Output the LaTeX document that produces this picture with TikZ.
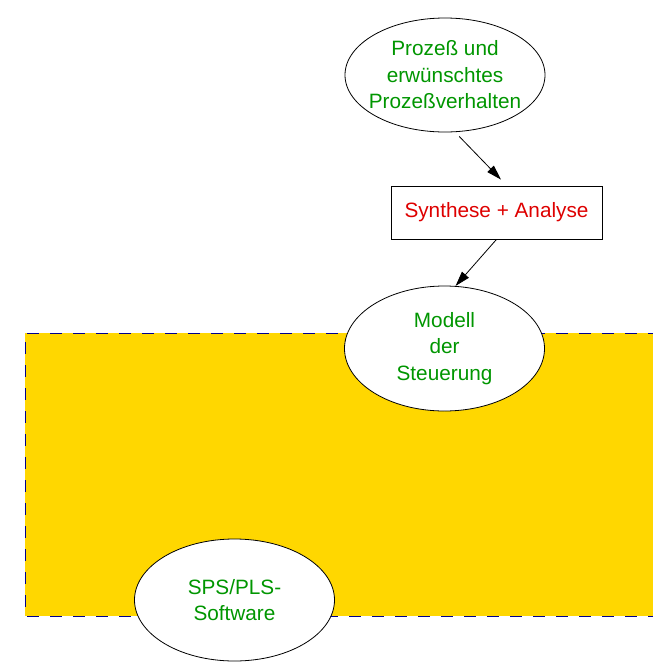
\documentclass[tikz,border=0pt]{standalone}
\usepackage{fontspec}
\setmainfont{Liberation Sans}
\usetikzlibrary{shapes.geometric,arrows.meta}
\definecolor{figgreen}{RGB}{0,150,0}
\definecolor{figred}{RGB}{222,0,0}
\definecolor{figgold}{RGB}{255,215,0}
\definecolor{figblue}{RGB}{0,0,140}
\begin{document}
\begin{tikzpicture}[x=1pt,y=-1pt]
\tikzstyle{every node}=[font=\fontsize{20.75}{26.5}\selectfont,align=center]
\tikzstyle{oval}=[ellipse,draw,fill=white,line width=0.8pt,inner sep=0pt,
  minimum width=200pt,text=figgreen]
\tikzstyle{arr}=[-{Triangle[length=15pt,width=9pt]},line width=0.8pt]
\useasboundingbox (0,0) rectangle (653,662);
\clip (0,0) rectangle (653,662);
\draw[fill=figgold,draw=figblue,line width=0.9pt,dash pattern=on 12pt off 11pt]
  (660,333)--(25,333)--(25,616)--(660,616);
\node[oval,minimum height=114pt,inner xsep=-14pt] (prozess) at (445,75)
  {Prozeß und\\erwünschtes\\Prozeßverhalten};
\node[draw,line width=0.8pt,minimum width=211pt,minimum height=53pt,
  inner sep=0pt,text=figred] (synth) at (496.5,212.5) {Synthese + Analyse};
\node[oval,minimum height=125pt] (modell) at (444.5,348.5)
  {Modell\\der\\Steuerung};
\node[oval,minimum height=122pt] (sps) at (234.5,600)
  {SPS/PLS-\\Software};
\draw[arr,shorten <=6pt] (prozess.-80)--([xshift=4.5pt,yshift=6pt]synth.north);
\draw[arr] (synth.south)--(modell.80);
\end{tikzpicture}
\end{document}
